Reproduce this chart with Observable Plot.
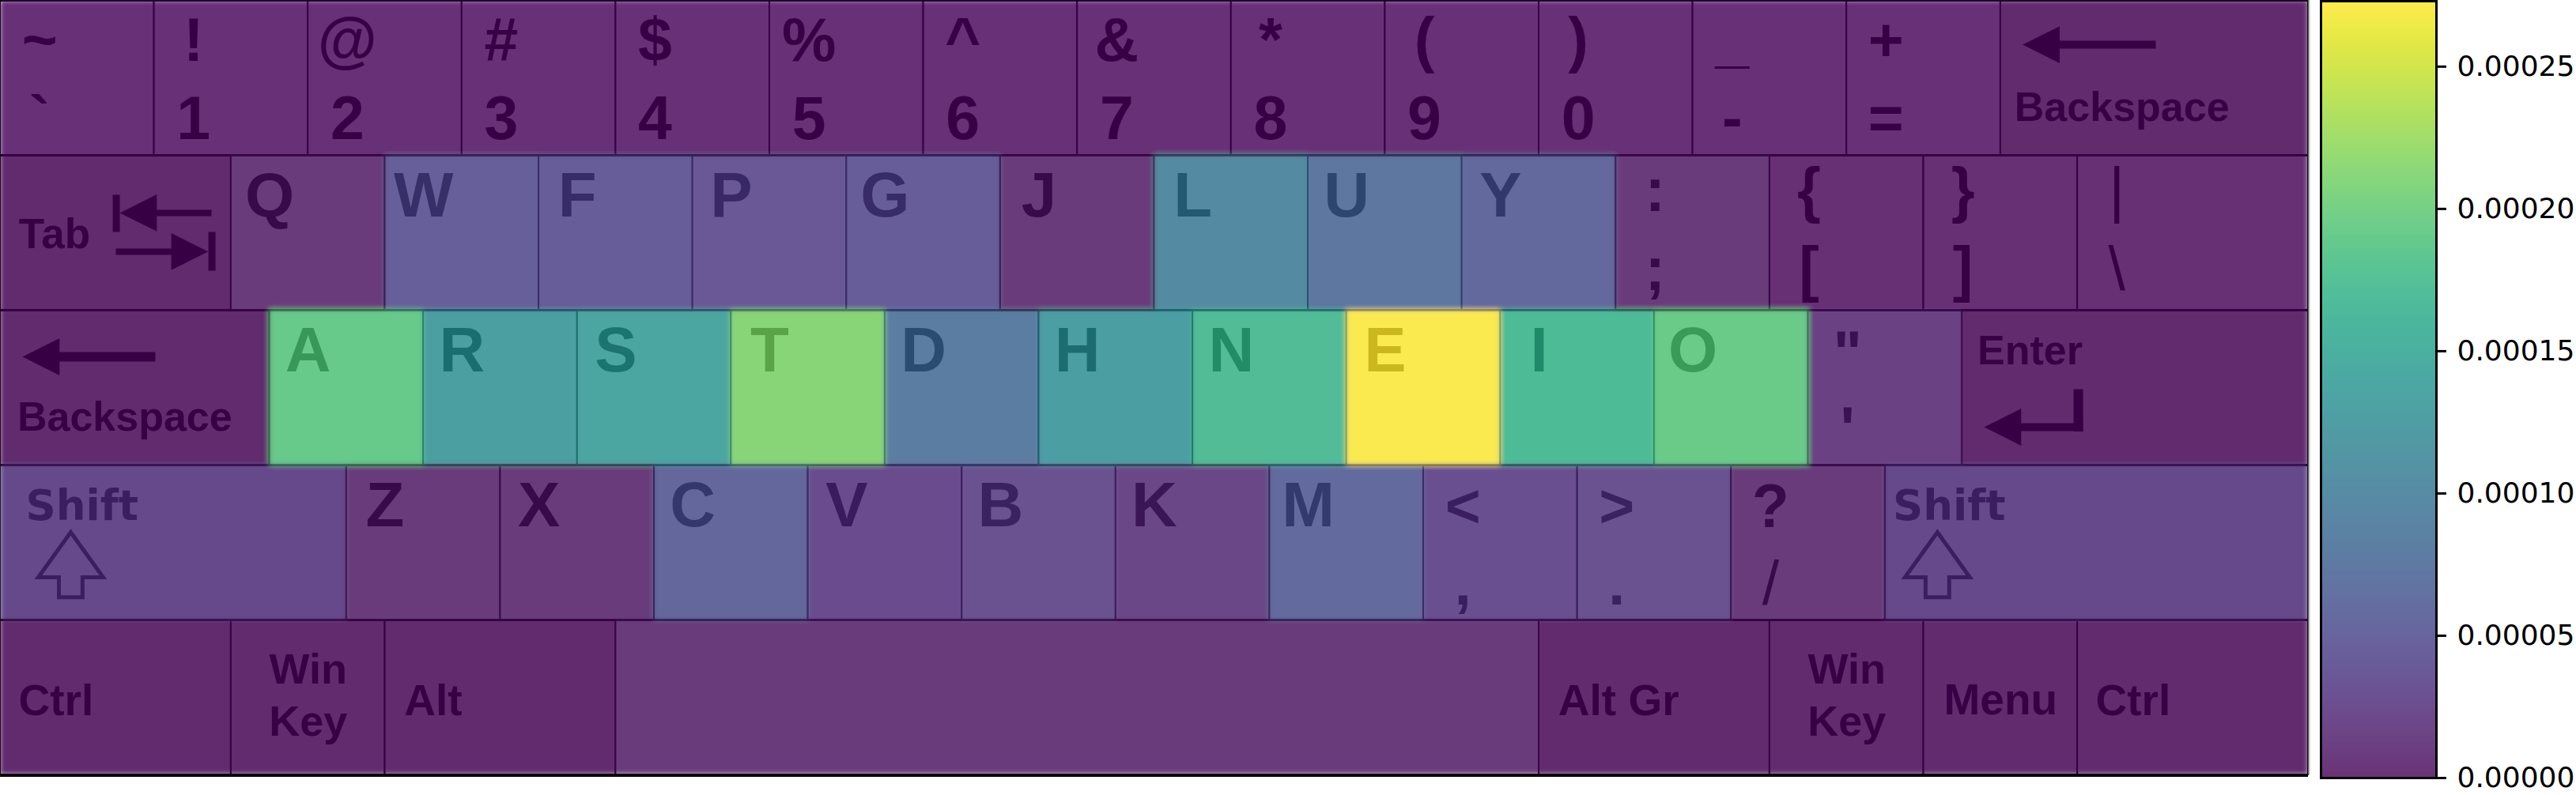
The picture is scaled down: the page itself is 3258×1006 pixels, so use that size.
<!DOCTYPE html>
<html><head><meta charset="utf-8">
<script src="https://cdn.jsdelivr.net/npm/d3@7"></script>
<script src="https://cdn.jsdelivr.net/npm/@observablehq/plot@0.6"></script>
<style>
html,body{margin:0;padding:0;background:#fff;}
#wrap{display:flex;flex-direction:row;width:3258px;height:1006px;overflow:hidden;}
#wrap svg{display:block;flex:none;}
</style></head><body><div id="wrap"></div>
<script>
// ---------------- data ----------------
const rowKeys = [
  ["`","1","2","3","4","5","6","7","8","9","0","-","=","Backspace"],
  ["Tab","Q","W","F","P","G","J","L","U","Y",";","[","]","\\"],
  ["Caps","A","R","S","T","D","H","N","E","I","O","'","Enter"],
  ["ShiftL","Z","X","C","V","B","K","M",",",".","/","ShiftR"],
  ["CtrlL","WinL","Alt","Space","AltGr","WinR","Menu","CtrlR"]
];
const rowUnits = [
  [1,1,1,1,1,1,1,1,1,1,1,1,1,2],
  [1.5,1,1,1,1,1,1,1,1,1,1,1,1,1.5],
  [1.75,1,1,1,1,1,1,1,1,1,1,1,2.25],
  [2.25,1,1,1,1,1,1,1,1,1,1,2.75],
  [1.5,1,1.5,6,1.5,1,1,1.5]
];
const rowValues = [
  [0.000004,0.000004,0.000004,0.000004,0.000004,0.000004,0.000004,0.000004,0.000004,0.000004,0.000004,0.000004,0.000004,0],
  [0,0.000006,0.000046,0.000044,0.000038,0.000045,0.000006,0.000101,0.000074,0.000057,0.000006,0.000003,0.000003,0.000003],
  [0,0.000191,0.000130,0.000139,0.000213,0.000083,0.000129,0.000172,0.000273,0.000169,0.000194,0.000016,0],
  [0.000030,0.000006,0.000006,0.000055,0.000026,0.000031,0.000019,0.000059,0.000030,0.000031,0.000006,0.000030],
  [0,0,0,0.000006,0,0,0,0]
];
const shiftedSymbols = {"`":"~","1":"!","2":"@","3":"#","4":"$","5":"%","6":"^","7":"&","8":"*","9":"(","0":")","-":"_","=":"+",
  ";":":","[":"{","]":"}","\\":"|","'":"\"",",":"<",".":">","/":"?"};
const thinGlyphs = ["|", "\\", "/"];
const colorMax = 0.000273;
const colorTicks = [0, 0.00005, 0.0001, 0.00015, 0.0002, 0.00025];

// ---------------- layout (key-relative offsets, in key units / row fractions) ----------------
const modifierLabels = [
  {key:"Backspace", text:"Backspace", dx:0.09, dy:0.776, size:52},
  {key:"Tab", text:"Tab", dx:0.12, dy:0.597, size:53},
  {key:"Caps", text:"Backspace", dx:0.11, dy:0.78, size:52},
  {key:"Enter", text:"Enter", dx:0.10, dy:0.347, size:52},
  {key:"CtrlL", text:"Ctrl", dx:0.118, dy:0.614, size:55},
  {key:"Alt", text:"Alt", dx:0.125, dy:0.614, size:55},
  {key:"AltGr", text:"Alt Gr", dx:0.125, dy:0.614, size:55},
  {key:"CtrlR", text:"Ctrl", dx:0.118, dy:0.614, size:55}
];
const centeredLabels = [
  {key:"WinL", text:"Win", dy:0.413, size:54},
  {key:"WinL", text:"Key", dy:0.745, size:54},
  {key:"WinR", text:"Win", dy:0.413, size:54},
  {key:"WinR", text:"Key", dy:0.745, size:54},
  {key:"Menu", text:"Menu", dy:0.612, size:55}
];
const shiftLabels = [
  {key:"ShiftL", text:"Shift", dx:0.165, dy:0.357},
  {key:"ShiftR", text:"Shift", dx:0.05, dy:0.357}
];
const symbolBaselines = [[0.39,0.893],[0.36,0.87],[0.41,0.90],[0.40,0.90]];
const arrowHeads = [
  {x:13.143, y:0.286, angle:0},
  {x:0.144, y:2.301, angle:0},
  {x:0.776, y:1.372, angle:0},
  {x:1.351, y:1.622, angle:180},
  {x:12.893, y:2.755, angle:0}
];
const arrowShafts = [
  {x1:13.35, y1:0.286, x2:14.008, y2:0.286, w:10},
  {x1:0.35, y1:2.301, x2:1.007, y2:2.301, w:12},
  {x1:0.98, y1:1.372, x2:1.372, y2:1.372, w:8},
  {x1:0.750, y1:1.622, x2:1.16, y2:1.622, w:8},
  {x1:0.753, y1:1.255, x2:0.753, y2:1.495, w:9},
  {x1:1.375, y1:1.495, x2:1.375, y2:1.745, w:9},
  {x1:13.10, y1:2.755, x2:13.536, y2:2.755, w:10},
  {x1:13.505, y1:2.51, x2:13.505, y2:2.783, w:12}
];
const shiftArrows = [{x:0.457, y:3.434}, {x:12.589, y:3.434}];

// ---------------- build ----------------
const keys = [];
rowKeys.forEach((row, r) => {
  let x = 0;
  row.forEach((id, i) => {
    keys.push({id, row: r, x1: x, x2: x + rowUnits[r][i], value: rowValues[r][i]});
    x += rowUnits[r][i];
  });
});
const isMod = d => d.id.length > 1 && d.id !== "Space";
const byId = id => keys.find(k => k.id === id);
const letters = keys.filter(d => /^[A-Z]$/.test(d.id));
const symbols = keys.filter(d => d.id in shiftedSymbols);
const glyphs = [];
symbols.forEach(d => {
  glyphs.push({text: shiftedSymbols[d.id], x: d.x1 + 0.255, y: d.row + symbolBaselines[d.row][0]});
  glyphs.push({text: d.id, x: d.x1 + 0.255, y: d.row + symbolBaselines[d.row][1]});
});
const boldGlyphs = glyphs.filter(g => !thinGlyphs.includes(g.text));
const lightGlyphs = glyphs.filter(g => thinGlyphs.includes(g.text));
const modText = modifierLabels.map(m => { const k = byId(m.key); return {...m, x: k.x1 + m.dx, y: k.row + m.dy}; });
const cenText = centeredLabels.map(m => { const k = byId(m.key); return {...m, x: (k.x1 + k.x2) / 2, y: k.row + m.dy}; });
const shText = shiftLabels.map(m => { const k = byId(m.key); return {...m, x: k.x1 + m.dx, y: k.row + m.dy}; });

const arrowHead = {draw(ctx, size) { const r = Math.sqrt(size / Math.PI);
  ctx.moveTo(0, 0); ctx.lineTo(2.6 * r, -1.3 * r); ctx.lineTo(2.6 * r, 1.3 * r); ctx.closePath(); }};
const shiftGlyph = {draw(ctx, size) { const r = Math.sqrt(size / Math.PI);
  const hw = 2.28 * r, hh = 3.17 * r, sw = 0.83 * r, th = 4.56 * r;
  ctx.moveTo(0, 0); ctx.lineTo(hw, hh); ctx.lineTo(sw, hh); ctx.lineTo(sw, th);
  ctx.lineTo(-sw, th); ctx.lineTo(-sw, hh); ctx.lineTo(-hw, hh); ctx.closePath(); }};

const LS = "Liberation Sans, Arial, sans-serif";

const main = Plot.plot({
  width: 2922, height: 1006,
  marginTop: 0, marginBottom: 26, marginLeft: 0, marginRight: 3,
  style: {background: "white", overflow: "visible"},
  x: {domain: [0, 15], axis: null},
  y: {domain: [0, 5], reverse: true, axis: null},
  color: {type: "linear", scheme: "viridis", domain: [0, colorMax]},
  marks: [
    Plot.rect(keys.filter(isMod), {x1: "x1", x2: "x2", y1: "row", y2: d => d.row + 1, fill: "#d8d8d6", stroke: "black", strokeWidth: 2}),
    Plot.rect(keys.filter(d => !isMod(d)), {x1: "x1", x2: "x2", y1: "row", y2: d => d.row + 1, fill: "#f2f4f4", stroke: "black", strokeWidth: 2}),
    Plot.ruleY([0, 1, 2, 3, 4], {stroke: "black", strokeWidth: 3}),
    Plot.text(letters, {x: d => d.x1 + 0.25, y: d => d.row + 0.395, text: "id", textAnchor: "middle", lineAnchor: "bottom",
      fontSize: 80, fontWeight: "bold", fontFamily: LS, fill: "black"}),
    Plot.text(boldGlyphs, {x: "x", y: "y", text: "text", textAnchor: "middle", lineAnchor: "bottom",
      fontSize: 77, fontWeight: "bold", fontFamily: LS, fill: "black"}),
    Plot.text(lightGlyphs, {x: "x", y: "y", text: "text", textAnchor: "middle", lineAnchor: "bottom",
      fontSize: 77, fontWeight: "normal", fontFamily: LS, fill: "black"}),
    Plot.text(modText, {x: "x", y: "y", text: "text", fontSize: "size", textAnchor: "start", lineAnchor: "bottom",
      fontWeight: "bold", fontFamily: LS, fill: "black"}),
    Plot.text(cenText, {x: "x", y: "y", text: "text", fontSize: "size", textAnchor: "middle", lineAnchor: "bottom",
      fontWeight: "bold", fontFamily: LS, fill: "black"}),
    Plot.text(shText, {x: "x", y: "y", text: "text", fontSize: 53, textAnchor: "start", lineAnchor: "bottom",
      fontWeight: "bold", fontFamily: "DejaVu Sans", fill: "black"}),
    Plot.link(arrowShafts, {x1: "x1", y1: "y1", x2: "x2", y2: "y2", stroke: "black", strokeWidth: "w"}),
    Plot.dot(arrowHeads, {x: "x", y: "y", rotate: "angle", symbol: arrowHead, r: 18, fill: "black", stroke: "none"}),
    Plot.dot(shiftArrows, {x: "x", y: "y", symbol: shiftGlyph, r: 18, fill: "none", stroke: "black", strokeWidth: 5}),
    Plot.rect(keys, {x1: "x1", x2: "x2", y1: "row", y2: d => d.row + 1, fill: "value", ariaDescription: "heat", shapeRendering: "crispEdges"}),
    Plot.ruleY([5], {stroke: "black", strokeWidth: 3, dy: 1}),
    Plot.ruleX([15], {stroke: "#bbbbbb", strokeWidth: 2, dx: 1})
  ]
});

const bar = Plot.plot({
  width: 336, height: 1006,
  marginTop: 1, marginBottom: 22, marginLeft: 13, marginRight: 177,
  style: {background: "white", overflow: "visible", fontFamily: "DejaVu Sans"},
  x: {domain: [0, 1], axis: null},
  y: {domain: [0, colorMax], axis: null},
  color: {type: "linear", scheme: "viridis", domain: [0, colorMax]},
  marks: [
    Plot.raster({x1: 0, x2: 1, y1: 0, y2: colorMax, fill: (x, y) => y, ariaDescription: "ramp"}),
    Plot.frame({stroke: "black", strokeWidth: 3}),
    Plot.axisY(colorTicks, {anchor: "right", tickFormat: d3.format(".5f"), tickSize: 12, tickPadding: 14,
      strokeWidth: 3, fontSize: 36, fontFamily: "DejaVu Sans", fill: "black", stroke: "black", label: null})
  ]
});

const wrap = document.getElementById("wrap");
wrap.appendChild(main);
wrap.appendChild(bar);

// semi-transparent, slightly smoothed heat overlay
const ns = "http://www.w3.org/2000/svg";
const defs = document.createElementNS(ns, "defs");
defs.innerHTML = '<filter id="heatBlur" x="0" y="0" width="1" height="1"><feGaussianBlur stdDeviation="3" edgeMode="duplicate"/></filter>';
main.insertBefore(defs, main.firstChild);
let heat = main.querySelector('g[aria-description="heat"]');
if (!heat) { const gs = main.querySelectorAll('g[aria-label="rect"]'); heat = gs[gs.length - 1]; }
heat.setAttribute("opacity", "0.8");
heat.setAttribute("filter", "url(#heatBlur)");
let ramp = bar.querySelector('g[aria-description="ramp"]') || bar.querySelector('g[aria-label="raster"]');
if (ramp) ramp.setAttribute("opacity", "0.8");
</script></body></html>
